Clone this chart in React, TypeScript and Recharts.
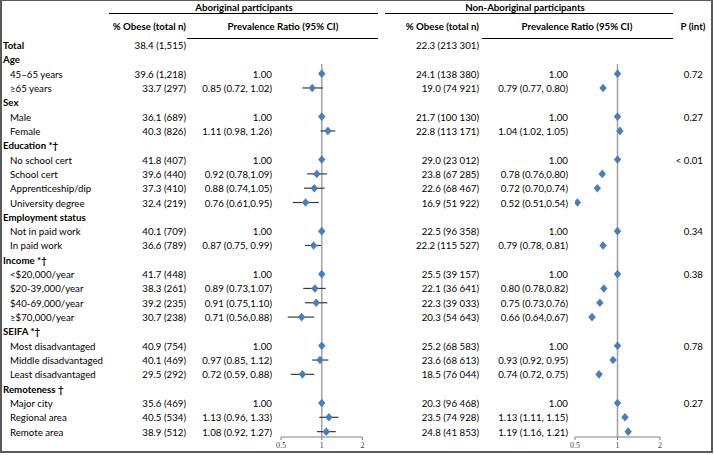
import React from 'react';
import { ScatterChart, Scatter, XAxis, YAxis, ErrorBar, ReferenceLine } from 'recharts';

const rowLabels = [
  'Total', 'Age', '45\u201365 years', '\u226565 years', 'Sex', 'Male', 'Female',
  'Education *\u2020', 'No school cert', 'School cert', 'Apprenticeship/dip', 'University degree',
  'Employment status', 'Not in paid work', 'In paid work',
  'Income *\u2020', '<$20,000/year', '$20-39,000/year', '$40-69,000/year', '\u2265$70,000/year',
  'SEIFA *\u2020', 'Most disadvantaged', 'Middle disadvantaged', 'Least disadvantaged',
  'Remoteness \u2020', 'Major city', 'Regional area', 'Remote area',
];
const rowIsGroup = [
  true, true, false, false, true, false, false,
  true, false, false, false, false,
  true, false, false,
  true, false, false, false, false,
  true, false, false, false,
  true, false, false, false,
];

const abObese = [
  '38.4 (1,515)', '', '39.6 (1,218)', '33.7 (297)', '', '36.1 (689)', '40.3 (826)',
  '', '41.8 (407)', '39.6 (440)', '37.3 (410)', '32.4 (219)',
  '', '40.1 (709)', '36.6 (789)',
  '', '41.7 (448)', '38.3 (261)', '39.2 (235)', '30.7 (238)',
  '', '40.9 (754)', '40.1 (469)', '29.5 (292)',
  '', '35.6 (469)', '40.5 (534)', '38.9 (512)',
];
const abRatioText = [
  '', '', '1.00', '0.85 (0.72, 1.02)', '', '1.00', '1.11 (0.98, 1.26)',
  '', '1.00', '0.92 (0.78,1.09)', '0.88 (0.74,1.05)', '0.76 (0.61,0.95)',
  '', '1.00', '0.87 (0.75, 0.99)',
  '', '1.00', '0.89 (0.73,1.07)', '0.91 (0.75,1.10)', '0.71 (0.56,0.88)',
  '', '1.00', '0.97 (0.85, 1.12)', '0.72 (0.59, 0.88)',
  '', '1.00', '1.13 (0.96, 1.33)', '1.08 (0.92, 1.27)',
];
const abRatio = [
  null, null, 1.0, 0.85, null, 1.0, 1.11,
  null, 1.0, 0.92, 0.88, 0.76,
  null, 1.0, 0.87,
  null, 1.0, 0.89, 0.91, 0.71,
  null, 1.0, 0.97, 0.72,
  null, 1.0, 1.13, 1.08,
];
const abLow = [
  null, null, 1.0, 0.72, null, 1.0, 0.98,
  null, 1.0, 0.78, 0.74, 0.61,
  null, 1.0, 0.75,
  null, 1.0, 0.73, 0.75, 0.56,
  null, 1.0, 0.85, 0.59,
  null, 1.0, 0.96, 0.92,
];
const abHigh = [
  null, null, 1.0, 1.02, null, 1.0, 1.26,
  null, 1.0, 1.09, 1.05, 0.95,
  null, 1.0, 0.99,
  null, 1.0, 1.07, 1.10, 0.88,
  null, 1.0, 1.12, 0.88,
  null, 1.0, 1.33, 1.27,
];

const nonObese = [
  '22.3 (213 301)', '', '24.1 (138 380)', '19.0 (74 921)', '', '21.7 (100 130)', '22.8 (113 171)',
  '', '29.0 (23 012)', '23.8 (67 285)', '22.6 (68 467)', '16.9 (51 922)',
  '', '22.5 (96 358)', '22.2 (115 527)',
  '', '25.5 (39 157)', '22.1 (36 641)', '22.3 (39 033)', '20.3 (54 643)',
  '', '25.2 (68 583)', '23.6 (68 613)', '18.5 (76 044)',
  '', '20.3 (96 468)', '23.5 (74 928)', '24.8 (41 853)',
];
const nonRatioText = [
  '', '', '1.00', '0.79 (0.77, 0.80)', '', '1.00', '1.04 (1.02, 1.05)',
  '', '1.00', '0.78 (0.76,0.80)', '0.72 (0.70,0.74)', '0.52 (0.51,0.54)',
  '', '1.00', '0.79 (0.78, 0.81)',
  '', '1.00', '0.80 (0.78,0.82)', '0.75 (0.73,0.76)', '0.66 (0.64,0.67)',
  '', '1.00', '0.93 (0.92, 0.95)', '0.74 (0.72, 0.75)',
  '', '1.00', '1.13 (1.11, 1.15)', '1.19 (1.16, 1.21)',
];
const nonRatio = [
  null, null, 1.0, 0.79, null, 1.0, 1.04,
  null, 1.0, 0.78, 0.72, 0.52,
  null, 1.0, 0.79,
  null, 1.0, 0.80, 0.75, 0.66,
  null, 1.0, 0.93, 0.74,
  null, 1.0, 1.13, 1.19,
];
const nonLow = [
  null, null, 1.0, 0.77, null, 1.0, 1.02,
  null, 1.0, 0.76, 0.70, 0.51,
  null, 1.0, 0.78,
  null, 1.0, 0.78, 0.73, 0.64,
  null, 1.0, 0.92, 0.72,
  null, 1.0, 1.11, 1.16,
];
const nonHigh = [
  null, null, 1.0, 0.80, null, 1.0, 1.05,
  null, 1.0, 0.80, 0.74, 0.54,
  null, 1.0, 0.81,
  null, 1.0, 0.82, 0.76, 0.67,
  null, 1.0, 0.95, 0.75,
  null, 1.0, 1.15, 1.21,
];
const pInt = [
  '', '', '0.72', '', '', '0.27', '',
  '', '< 0.01', '', '', '',
  '', '0.34', '',
  '', '0.38', '', '', '',
  '', '0.78', '', '',
  '', '0.27', '', '',
];

const axisTicks = [0.5, 1, 2];

// ---- layout ----
const W = 714;
const H = 455;
const ROW0 = 45;
const ROW_H = 14.32;
const PLOT_TOP = 64;
const PLOT_BOTTOM = 437;
const rowY = (i: number) => ROW0 + ROW_H * i;
const yMin = (PLOT_TOP - ROW0) / ROW_H;
const yMax = (PLOT_BOTTOM - ROW0) / ROW_H;

const FONT = 'Lato, "Liberation Sans", sans-serif';
const FS = 9.7;

function buildData(r: (number | null)[], lo: (number | null)[], hi: (number | null)[]) {
  const out: { x: number; y: number; err: [number, number] }[] = [];
  r.forEach((v, i) => {
    if (v == null) return;
    const l = lo[i] as number;
    const h = hi[i] as number;
    out.push({ x: v, y: i, err: [Math.max(0, v - l), Math.max(0, h - v)] });
  });
  return out;
}

const abData = buildData(abRatio, abLow, abHigh);
const nonData = buildData(nonRatio, nonLow, nonHigh);

const Diamond = (props: any) => {
  const { cx, cy } = props;
  if (cx == null || cy == null) return null;
  const w = 3.7;
  const h = 4.3;
  return (
    <path
      d={`M${cx},${cy - h} L${cx + w},${cy} L${cx},${cy + h} L${cx - w},${cy} Z`}
      fill="#4A7EBB"
    />
  );
};

function Forest({ data, left, width, mLeft, mRight }: { data: any[]; left: number; width: number; mLeft: number; mRight: number }) {
  return (
    <div style={{ position: 'absolute', left, top: 0, width, height: H }}>
      <ScatterChart width={width} height={H} margin={{ top: PLOT_TOP, bottom: 0, left: mLeft, right: mRight }}>
        <XAxis
          dataKey="x"
          type="number"
          scale="log"
          domain={[0.5, 2]}
          ticks={axisTicks}
          allowDataOverflow
          height={H - PLOT_BOTTOM}
          tickSize={3}
          axisLine={{ stroke: '#808080', strokeWidth: 1 }}
          tickLine={{ stroke: '#808080', strokeWidth: 1 }}
          tick={{ fontFamily: '"Liberation Serif", "DejaVu Serif", serif', fontSize: 8, fill: '#3c3c3c', stroke: 'none' }}
          tickFormatter={(v: number) => String(v)}
          interval={0}
        />
        <YAxis dataKey="y" type="number" domain={[yMin, yMax]} reversed hide allowDataOverflow />
        <ReferenceLine x={1} stroke="#A6A6A6" strokeWidth={1.6} ifOverflow="visible" />
        <Scatter data={data} isAnimationActive={false} shape={<Diamond />}>
          <ErrorBar dataKey="err" direction="x" width={0} stroke="#3a3a3a" strokeWidth={1.2} isAnimationActive={false} />
        </Scatter>
      </ScatterChart>
    </div>
  );
}

const txt = (key: string, s: string, y: number, opts: { left?: number; right?: number; center?: number; bold?: boolean }) => {
  const base: React.CSSProperties = {
    position: 'absolute',
    top: y - 7,
    height: 14,
    lineHeight: '14px',
    whiteSpace: 'nowrap',
    fontFamily: FONT,
    fontSize: FS,
    fontWeight: opts.bold ? 700 : 400,
    color: '#000',
  };
  if (opts.left != null) return <div key={key} style={{ ...base, left: opts.left }}>{s}</div>;
  if (opts.right != null)
    return <div key={key} style={{ ...base, left: opts.right - 200, width: 200, textAlign: 'right' }}>{s}</div>;
  return <div key={key} style={{ ...base, left: (opts.center as number) - 150, width: 300, textAlign: 'center' }}>{s}</div>;
};

const hLine = (key: string, x1: number, x2: number, y: number) => (
  <div key={key} style={{ position: 'absolute', left: x1, top: y, width: x2 - x1, height: 1, background: '#000' }} />
);

export default function App() {
  const texts: React.ReactNode[] = [];
  rowLabels.forEach((lab, i) => {
    const y = rowY(i);
    texts.push(txt('l' + i, lab, y, { left: rowIsGroup[i] ? 3 : 10, bold: rowIsGroup[i] }));
    if (abObese[i]) texts.push(txt('ao' + i, abObese[i], y, { right: 186 }));
    if (abRatioText[i]) texts.push(txt('ar' + i, abRatioText[i], y, { right: 272 }));
    if (nonObese[i]) texts.push(txt('no' + i, nonObese[i], y, { right: 479 }));
    if (nonRatioText[i]) texts.push(txt('nr' + i, nonRatioText[i], y, { right: 568 }));
    if (pInt[i]) texts.push(txt('p' + i, pInt[i], y, { right: 703 }));
  });

  return (
    <div style={{ position: 'absolute', left: 0, top: 0, width: W, height: H, background: '#fff', overflow: 'hidden' }}>
      <div
        style={{
          position: 'absolute', left: 0, top: 0, width: W - 1, height: H - 2, boxSizing: 'border-box',
          borderLeft: '2px solid #5a5a5a', borderTop: '1px solid #5a5a5a', borderRight: '2px solid #5a5a5a', borderBottom: '2px solid #5a5a5a',
        }}
      />
      {txt('h1', 'Aboriginal participants', 7, { center: 244, bold: true })}
      {txt('h2', 'Non-Aboriginal participants', 7, { center: 525, bold: true })}
      {hLine('l1', 109, 378, 13)}
      {hLine('l2', 385, 673, 13)}
      {txt('h3', '% Obese (total n)', 26, { right: 186, bold: true })}
      {txt('h4', 'Prevalence Ratio (95% CI)', 26, { center: 283, bold: true })}
      {txt('h5', '% Obese (total n)', 26, { right: 479, bold: true })}
      {txt('h6', 'Prevalence Ratio (95% CI)', 26, { center: 577, bold: true })}
      {txt('h7', 'P (int)', 26, { center: 693, bold: true })}
      {hLine('l3', 187, 378, 38)}
      {hLine('l4', 482, 673, 38)}
      {texts}
      <Forest data={abData} left={271} width={105} mLeft={10} mRight={13.5} />
      <Forest data={nonData} left={565} width={110} mLeft={10} mRight={15} />
    </div>
  );
}
